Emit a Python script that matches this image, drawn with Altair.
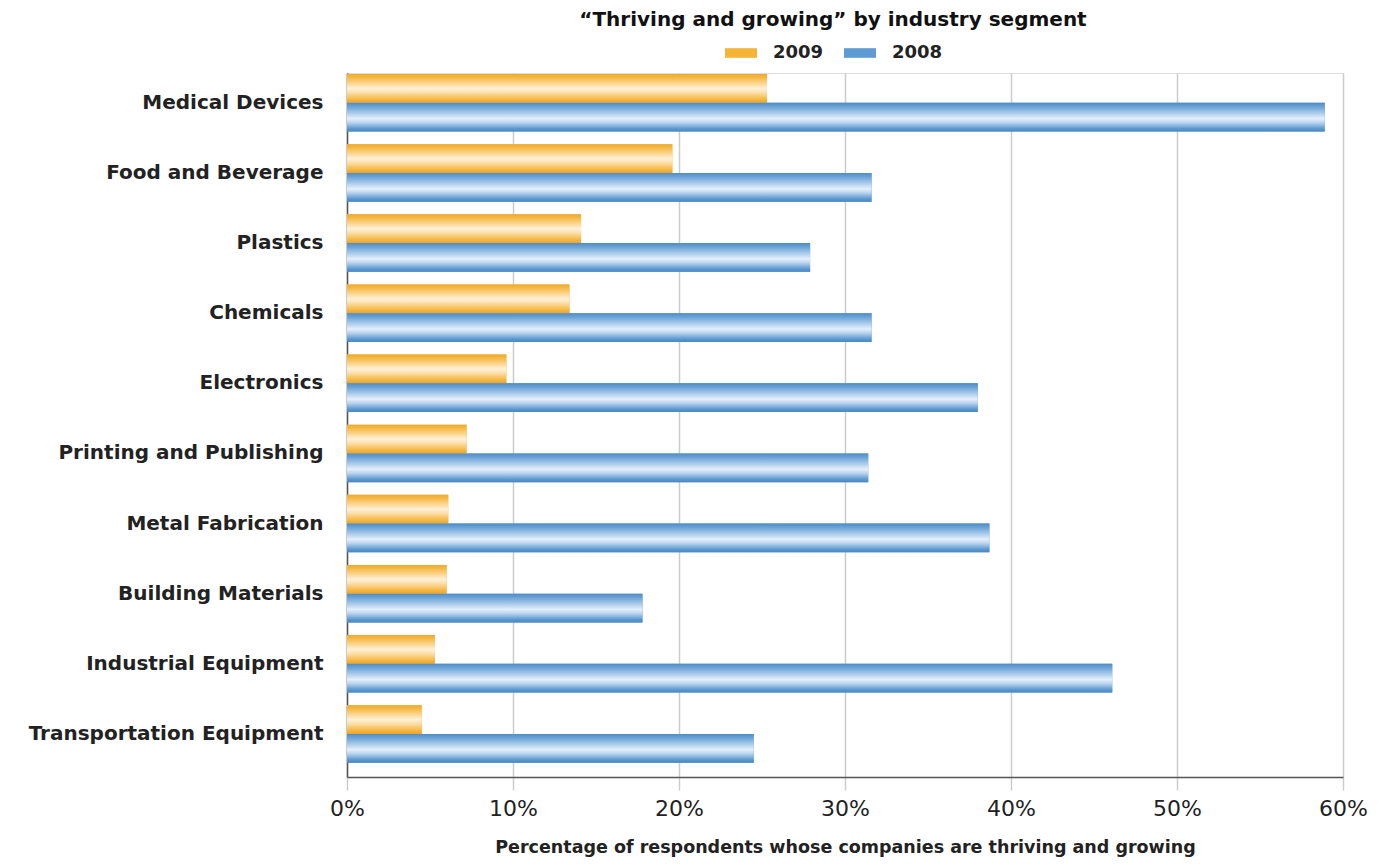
import altair as alt
import pandas as pd

categories = ["Medical Devices", "Food and Beverage", "Plastics", "Chemicals", "Electronics",
              "Printing and Publishing", "Metal Fabrication", "Building Materials",
              "Industrial Equipment", "Transportation Equipment"]
values_2009 = [25.3, 19.6, 14.1, 13.4, 9.6, 7.2, 6.1, 6.0, 5.3, 4.5]
values_2008 = [58.9, 31.6, 27.9, 31.6, 38.0, 31.4, 38.7, 17.8, 46.1, 24.5]
years = ["2009", "2008"]

rows = []
for c, a, b in zip(categories, values_2009, values_2008):
    rows.append({"segment": c, "year": "2009", "value": a / 100})
    rows.append({"segment": c, "year": "2008", "value": b / 100})
df = pd.DataFrame(rows)

FONT = "DejaVu Sans"

y_enc = alt.Y("segment:N", sort=categories, title=None,
              scale=alt.Scale(paddingInner=0.18, paddingOuter=0.11, align=0.07),
              axis=alt.Axis(labelFontSize=20, labelFont=FONT, labelFontWeight="bold",
                            labelColor="#222222", labelPadding=24, labelLimit=400, ticks=False,
                            domainColor="#555555", domainWidth=1.5, grid=False))
x_enc = alt.X("value:Q", title="Percentage of respondents whose companies are thriving and growing",
              scale=alt.Scale(domain=[0, 0.6], nice=False),
              axis=alt.Axis(format="%", values=[0, 0.1, 0.2, 0.3, 0.4, 0.5, 0.6],
                            labelFontSize=22, labelFont=FONT, labelColor="#222222",
                            labelFlush=False, labelPadding=8,
                            tickSize=13, tickColor="#cccccc", tickWidth=1.5,
                            gridColor="#cccccc", gridWidth=1.5,
                            domainColor="#555555", domainWidth=1.5,
                            titleFontSize=17.5, titleFont=FONT, titleFontWeight="bold",
                            titleColor="#222222", titlePadding=19))
yoff = alt.YOffset("year:N", sort=years, scale=alt.Scale(domain=years, paddingInner=0, paddingOuter=0))

base = alt.Chart(df).mark_bar().encode(
    y=y_enc, x=x_enc, yOffset=yoff,
    color=alt.Color("year:N", sort=years,
                    scale=alt.Scale(domain=years, range=["#f6b437", "#5d9bd2"]),
                    legend=alt.Legend(title=None, orient="none", direction="horizontal",
                                      legendX=378, legendY=-36,
                                      symbolType="M-1,-0.3L1,-0.3L1,0.3L-1,0.3Z",
                                      symbolSize=1024, symbolStrokeWidth=0,
                                      labelFontSize=18, labelFont=FONT, labelFontWeight="bold",
                                      labelColor="#222222", labelOffset=16, columnPadding=20))
)

orange_grad = alt.Gradient(gradient="linear", x1=0, y1=0, x2=0, y2=1, stops=[
    alt.GradientStop(offset=0, color="#eeaa2e"),
    alt.GradientStop(offset=0.12, color="#f6b843"),
    alt.GradientStop(offset=0.5, color="#fff0d6"),
    alt.GradientStop(offset=0.62, color="#fde3b2"),
    alt.GradientStop(offset=0.88, color="#f6b741"),
    alt.GradientStop(offset=1, color="#e9a52e"),
])
blue_grad = alt.Gradient(gradient="linear", x1=0, y1=0, x2=0, y2=1, stops=[
    alt.GradientStop(offset=0, color="#4f8cc4"),
    alt.GradientStop(offset=0.15, color="#6ea5d8"),
    alt.GradientStop(offset=0.55, color="#e4effc"),
    alt.GradientStop(offset=0.68, color="#bcd6f0"),
    alt.GradientStop(offset=0.9, color="#5c98cf"),
    alt.GradientStop(offset=1, color="#4a88c0"),
])

orange = alt.Chart(df).transform_filter(alt.datum.year == "2009").mark_bar(color=orange_grad).encode(
    y=alt.Y("segment:N", sort=categories), x="value:Q", yOffset=yoff)
blue = alt.Chart(df).transform_filter(alt.datum.year == "2008").mark_bar(color=blue_grad).encode(
    y=alt.Y("segment:N", sort=categories), x="value:Q", yOffset=yoff)

chart = alt.layer(base, orange, blue).properties(
    width=996, height=704,
    padding={"left": 339, "top": 65, "right": 40, "bottom": 80},
    autosize=alt.AutoSizeParams(type="none"),
    title=alt.TitleParams("\u201cThriving and growing\u201d by industry segment",
                          fontSize=20, font=FONT, fontWeight="bold", color="#111111",
                          anchor="middle", baseline="bottom", offset=-13, dx=-12),
).configure_view(stroke=None).configure(background="white")

chart.save("out.html", embed_options={"renderer": "svg", "actions": False})
